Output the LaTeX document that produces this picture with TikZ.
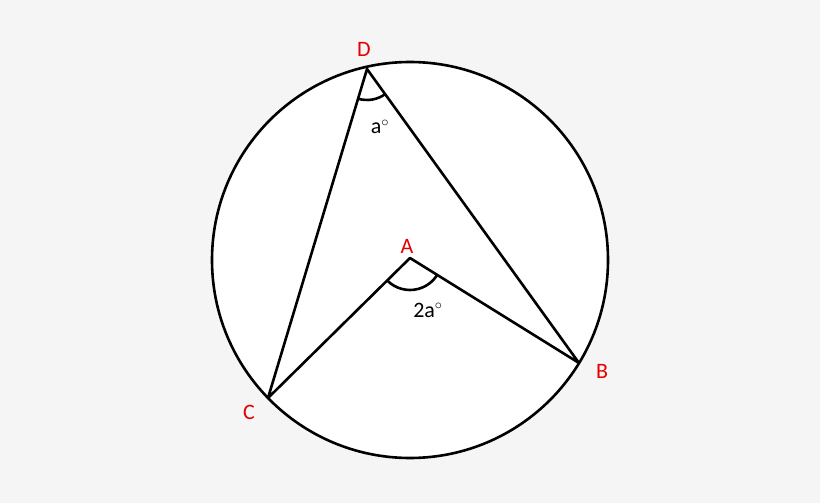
\documentclass[tikz,border=0pt]{standalone}
\usepackage{fontspec}
\setmainfont{Carlito}
\begin{document}
\begin{tikzpicture}[x=1pt,y=-1pt,
  lbl/.style={text=red!90!black,font=\fontsize{22}{26}\selectfont},
  ang/.style={font=\fontsize{22}{26}\selectfont},
  ln/.style={line width=2.6pt,line join=round}]
\fill[black!4] (0,0) rectangle (820,503);
\useasboundingbox (0,0) rectangle (820,503);
\coordinate (O) at (410,260);
\filldraw[fill=white,ln] (O) circle (198);
\coordinate (D) at (367,69);
\coordinate (C) at (268,398);
\coordinate (B) at (579,363);
\coordinate (A) at (410,258);
\draw[ln] (C) -- (D) -- (B) -- (A) -- (C);
\draw[ln] ([shift={(106.7:31)}]D) arc[start angle=106.7,end angle=54.2,radius=31];
\draw[ln] ([shift={(135.4:32)}]A) arc[start angle=135.4,end angle=31.9,radius=32];
\node[lbl] (dl) at (364,49) {D};
\node[lbl] (al) at (407,246) {A};
\node[lbl] (bl) at (602,371) {B};
\node[lbl] (cl) at (249,412) {C};
\node[ang] (a1) at (380,127) {a$^\circ$};
\node[ang] (a2) at (428,310) {2a$^\circ$};
\end{tikzpicture}
\end{document}
